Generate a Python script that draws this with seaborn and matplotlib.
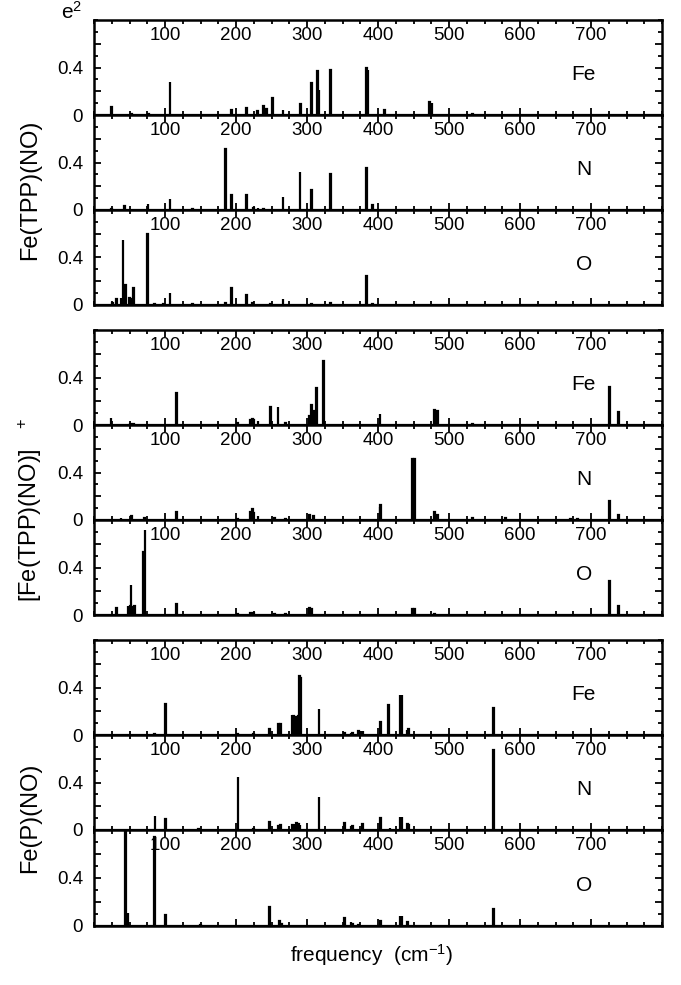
import matplotlib
matplotlib.use("Agg")
import numpy as np
import matplotlib.pyplot as plt
import seaborn as sns
from matplotlib.ticker import MultipleLocator

# ---- data: stick spectra (frequency in cm-1, e^2 amplitude) ----
# Fe(TPP)(NO)
tpp_fe_freq = [25, 53, 77, 107, 186, 194, 215, 230, 239, 243, 251, 266, 291, 306, 315, 317, 333, 384, 386, 409, 473, 476, 533]
tpp_fe_amp = [0.07, 0.01, 0.01, 0.28, 0.01, 0.04, 0.06, 0.03, 0.08, 0.05, 0.14, 0.04, 0.09, 0.27, 0.37, 0.21, 0.38, 0.40, 0.38, 0.04, 0.11, 0.10, 0.01]
tpp_n_freq = [25, 43, 76, 107, 139, 185, 194, 215, 225, 231, 239, 266, 290, 306, 333, 384, 392]
tpp_n_amp = [0.01, 0.03, 0.05, 0.09, 0.01, 0.51, 0.13, 0.13, 0.02, 0.02, 0.01, 0.11, 0.32, 0.17, 0.30, 0.35, 0.04]
tpp_o_freq = [26, 32, 38, 41, 44, 50, 53, 56, 66, 75, 85, 98, 107, 139, 185, 194, 215, 223, 231, 241, 249, 266, 290, 306, 333, 384, 392]
tpp_o_amp = [0.02, 0.05, 0.06, 0.55, 0.17, 0.06, 0.05, 0.14, 0.01, 0.60, 0.01, 0.01, 0.10, 0.01, 0.02, 0.14, 0.08, 0.02, 0.01, 0.01, 0.01, 0.05, 0.01, 0.01, 0.02, 0.24, 0.01]

# [Fe(TPP)(NO)]+
cat_fe_freq = [24, 51, 56, 116, 202, 220, 223, 225, 231, 249, 259, 270, 304, 306, 309, 313, 323, 403, 480, 484, 533, 726, 739]
cat_fe_amp = [0.06, 0.01, 0.01, 0.27, 0.02, 0.04, 0.05, 0.04, 0.03, 0.15, 0.15, 0.02, 0.08, 0.17, 0.12, 0.31, 0.54, 0.09, 0.13, 0.12, 0.01, 0.32, 0.11]
cat_n_freq = [24, 38, 53, 71, 116, 202, 220, 223, 225, 231, 254, 270, 304, 309, 403, 404, 449, 451, 480, 484, 533, 580, 671, 681, 726, 739]
cat_n_amp = [0.01, 0.02, 0.03, 0.02, 0.07, 0.01, 0.07, 0.09, 0.06, 0.03, 0.02, 0.01, 0.04, 0.03, 0.11, 0.13, 0.51, 0.51, 0.07, 0.04, 0.02, 0.02, 0.01, 0.01, 0.16, 0.04]
cat_o_freq = [24, 32, 48, 51, 52, 55, 57, 70, 72, 116, 202, 220, 225, 238, 254, 270, 304, 306, 403, 449, 451, 480, 590, 726, 739]
cat_o_amp = [0.01, 0.06, 0.08, 0.08, 0.25, 0.08, 0.08, 0.53, 0.72, 0.09, 0.01, 0.02, 0.02, 0.01, 0.01, 0.01, 0.06, 0.05, 0.01, 0.05, 0.05, 0.01, 0.01, 0.29, 0.08]

# Fe(P)(NO)
por_fe_freq = [45, 85, 101, 202, 225, 247, 260, 263, 279, 281, 284, 288, 289, 291, 317, 353, 362, 364, 373, 376, 379, 404, 415, 431, 434, 441, 443, 563]
por_fe_amp = [0.01, 0.01, 0.26, 0.01, 0.01, 0.05, 0.09, 0.09, 0.17, 0.16, 0.15, 0.16, 0.50, 0.48, 0.22, 0.02, 0.02, 0.02, 0.03, 0.03, 0.03, 0.11, 0.25, 0.34, 0.34, 0.04, 0.05, 0.23]
por_n_freq = [45, 86, 101, 147, 203, 225, 247, 260, 263, 280, 283, 285, 288, 290, 317, 353, 362, 364, 378, 404, 417, 431, 434, 442, 443, 563]
por_n_amp = [0.005, 0.12, 0.09, 0.01, 0.45, 0.01, 0.07, 0.03, 0.04, 0.04, 0.05, 0.06, 0.05, 0.04, 0.28, 0.06, 0.03, 0.03, 0.05, 0.10, 0.02, 0.11, 0.11, 0.05, 0.04, 0.67]
por_o_freq = [44, 48, 85, 101, 150, 203, 247, 261, 264, 290, 353, 362, 364, 373, 404, 431, 434, 442, 563]
por_o_amp = [0.85, 0.11, 0.74, 0.09, 0.005, 0.01, 0.16, 0.04, 0.02, 0.01, 0.07, 0.03, 0.02, 0.01, 0.04, 0.08, 0.08, 0.03, 0.14]

atoms = ["Fe", "N", "O"]
group_labels = ["Fe(TPP)(NO)", r"[Fe(TPP)(NO)]   $\mathregular{^{+}}$", "Fe(P)(NO)"]
freq_ticks = [100, 200, 300, 400, 500, 600, 700]

sns.set_style("ticks", {"axes.edgecolor": "black", "text.color": "black",
                        "xtick.color": "black", "ytick.color": "black"})
plt.rcParams["font.family"] = ["Liberation Sans", "DejaVu Sans"]
plt.rcParams["mathtext.fontset"] = "custom"
plt.rcParams["mathtext.rm"] = "Liberation Sans"

W, H = 681, 985
fig = plt.figure(figsize=(W / 100, H / 100), dpi=100)

# panel edges in pixels (top, bottom)
panel_px = [(20, 115), (115, 210), (210, 305),
            (330, 425), (425, 520), (520, 615),
            (640, 735), (735, 830), (830, 926)]
spectra = [(tpp_fe_freq, tpp_fe_amp), (tpp_n_freq, tpp_n_amp), (tpp_o_freq, tpp_o_amp),
           (cat_fe_freq, cat_fe_amp), (cat_n_freq, cat_n_amp), (cat_o_freq, cat_o_amp),
           (por_fe_freq, por_fe_amp), (por_n_freq, por_n_amp), (por_o_freq, por_o_amp)]
x0, x1 = 94, 662

for i, ((top, bot), (freq, amp)) in enumerate(zip(panel_px, spectra)):
    ax = fig.add_axes([x0 / W, 1 - bot / H, (x1 - x0) / W, (bot - top) / H])
    sns.histplot(x=freq, weights=amp, binwidth=1, binrange=(-0.5, 800.5),
                 color="black", alpha=1, edgecolor="black", linewidth=1.6, ax=ax)
    ax.set_xlim(0, 800)
    ax.set_ylim(0, 0.8)
    ax.set_xlabel("")
    ax.set_ylabel("")

    ax.set_xticks(freq_ticks)
    ax.xaxis.set_minor_locator(MultipleLocator(25))
    ax.set_yticks([0, 0.2, 0.4, 0.6], ["0", "", "0.4", ""])
    ax.yaxis.set_minor_locator(MultipleLocator(0.1))
    ax.tick_params(axis="x", which="both", direction="in", top=True, bottom=True,
                   labeltop=True, labelbottom=False, pad=-17, labelsize=13.5, width=1.3)
    ax.tick_params(axis="y", which="both", direction="in", left=True, right=True,
                   labelsize=13.5, pad=8, width=1.3)
    ax.tick_params(which="major", length=5)
    ax.tick_params(which="minor", length=3)
    for sp in ax.spines.values():
        sp.set_linewidth(1.8)
        sp.set_visible(True)

    ax.text(690, 0.34, atoms[i % 3], ha="center", va="center", fontsize=15)

# group labels
for label, yc in zip(group_labels, [190, 510, 818]):
    fig.text(30 / W, 1 - yc / H, label, rotation=90, ha="center", va="center", fontsize=17)

fig.text(72 / W, 1 - 12 / H, r"e$\mathregular{^2}$", ha="center", va="center", fontsize=15)
fig.text(372 / W, 1 - 955 / H, r"frequency  (cm$\mathregular{^{-1}}$)", ha="center", va="center", fontsize=15)

fig.savefig("out.png", dpi=100)
